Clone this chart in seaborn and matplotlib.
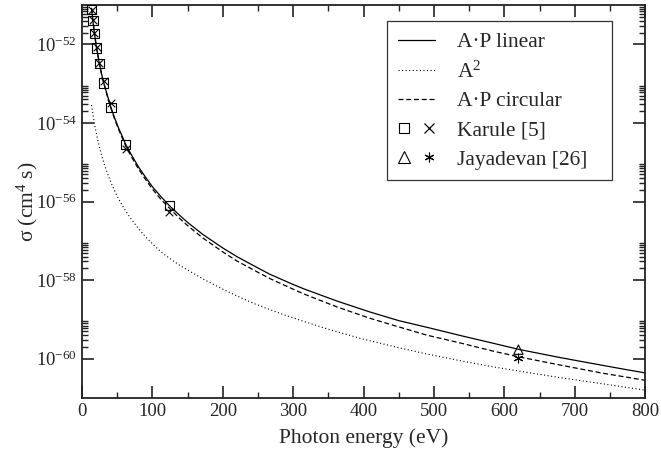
import matplotlib
matplotlib.use('Agg')
import matplotlib.pyplot as plt
from matplotlib.lines import Line2D
from matplotlib.legend_handler import HandlerTuple
from matplotlib.ticker import FixedLocator, FuncFormatter, NullFormatter
import numpy as np
import pandas as pd
import seaborn as sns

# A.P linear (solid line): photon energy (eV), log10 sigma
energy_lin = [13.6, 15.5, 17.7, 20.7, 24.8, 28, 31.0, 35, 41.3, 46, 52, 57, 62, 70, 80, 90,
              100, 112, 124, 137, 150, 172, 200, 220, 250, 267, 300, 315, 362, 409, 450,
              490, 540, 585, 620, 679, 740, 774, 800]
logsig_lin = [-51.08, -51.39, -51.72, -52.09, -52.49, -52.76, -52.98, -53.23, -53.61, -53.85,
              -54.13, -54.33, -54.54, -54.80, -55.11, -55.37, -55.62, -55.87, -56.10, -56.32,
              -56.53, -56.84, -57.18, -57.40, -57.69, -57.85, -58.11, -58.22, -58.53, -58.81,
              -59.03, -59.20, -59.42, -59.61, -59.76, -59.97, -60.17, -60.28, -60.36]

# A^2 (dotted line)
energy_a2 = [13.6, 15.5, 17, 18.9, 21, 23, 25.5, 28.4, 31.5, 35, 38.5, 42.6, 47, 52, 57, 61.5,
             67, 73.5, 80, 90, 105, 115, 125, 137, 150, 172, 200, 220, 245, 267, 290, 315, 350,
             395, 450, 490, 540, 585, 640, 679, 740, 800]
logsig_a2 = [-53.54, -53.77, -53.94, -54.12, -54.31, -54.47, -54.66, -54.85, -55.04, -55.22,
             -55.39, -55.57, -55.75, -55.93, -56.09, -56.22, -56.37, -56.53, -56.68, -56.89,
             -57.16, -57.32, -57.45, -57.60, -57.74, -57.97, -58.23, -58.40, -58.60, -58.75,
             -58.90, -59.05, -59.25, -59.48, -59.72, -59.88, -60.06, -60.21, -60.37, -60.48,
             -60.64, -60.80]

# A.P circular (dashed line)
energy_circ = [13.6, 15.5, 17.7, 20.7, 24.8, 28, 31.0, 35, 41.3, 46, 52, 57, 62, 70, 80, 90,
               100, 112, 125, 137, 150, 172, 200, 220, 250, 267, 300, 315, 362, 409, 450,
               490, 540, 585, 620, 679, 740, 774, 800]
logsig_circ = [-51.08, -51.38, -51.71, -52.08, -52.49, -52.77, -52.99, -53.25, -53.63, -53.88,
               -54.16, -54.37, -54.58, -54.85, -55.16, -55.43, -55.68, -55.94, -56.18, -56.40,
               -56.61, -56.93, -57.28, -57.51, -57.80, -57.96, -58.23, -58.35, -58.68, -58.97,
               -59.19, -59.40, -59.61, -59.81, -59.95, -60.16, -60.37, -60.47, -60.55]

# Karule [5]: squares (linear) and x (circular)
karule_energy = [13.78, 15.50, 17.71, 20.66, 24.80, 30.99, 41.33, 61.99, 123.98]
karule_lin = [-51.11, -51.39, -51.72, -52.09, -52.49, -52.98, -53.61, -54.54, -56.10]
karule_circ = [-51.11, -51.38, -51.71, -52.07, -52.46, -52.93, -53.49, -54.67, -56.27]

# Jayadevan [26]: triangle (linear) and asterisk (circular)
jay_energy = [620.0]
jay_lin = [-59.77]
jay_circ = [-59.97]

# axis ticks
x_major = np.arange(0, 801, 100)
y_major_exp = [-60, -58, -56, -54, -52]
y_minor_mult = [2, 3, 4, 5, 6, 7, 8, 9]

sns.set_theme(style='ticks')
plt.rcParams['font.family'] = ['Liberation Serif', 'DejaVu Serif']
plt.rcParams['mathtext.fontset'] = 'custom'
plt.rcParams['mathtext.rm'] = 'Liberation Serif'
plt.rcParams['mathtext.it'] = 'Liberation Serif:italic'

fig = plt.figure(figsize=(6.61, 4.51), dpi=100)
ax = fig.add_axes([0.124, 0.1175, 0.852, 0.871])

df_lin = pd.DataFrame({'E': energy_lin, 'sigma': 10.0 ** np.array(logsig_lin)})
df_a2 = pd.DataFrame({'E': energy_a2, 'sigma': 10.0 ** np.array(logsig_a2)})
df_circ = pd.DataFrame({'E': energy_circ, 'sigma': 10.0 ** np.array(logsig_circ)})

sns.lineplot(data=df_lin, x='E', y='sigma', ax=ax, color='black', lw=0.9, estimator=None)
sns.lineplot(data=df_a2, x='E', y='sigma', ax=ax, color='black', lw=0.8,
             linestyle=(0, (1, 2.2)), estimator=None)
sns.lineplot(data=df_circ, x='E', y='sigma', ax=ax, color='black', lw=0.9,
             linestyle=(0, (4, 2.2)), estimator=None)

sns.scatterplot(x=karule_energy, y=10.0 ** np.array(karule_lin), ax=ax, marker='s', s=45,
                facecolor='none', edgecolor='black', linewidth=0.8, zorder=3)
sns.scatterplot(x=karule_energy, y=10.0 ** np.array(karule_circ), ax=ax, marker='x', s=30,
                color='black', edgecolor=None, linewidth=0.8, zorder=3)
sns.scatterplot(x=jay_energy, y=10.0 ** np.array(jay_lin), ax=ax, marker='^', s=45,
                facecolor='none', edgecolor='black', linewidth=0.8, zorder=3)
sns.scatterplot(x=jay_energy, y=10.0 ** np.array(jay_circ), ax=ax, marker=(6, 2, 0), s=40,
                color='black', edgecolor=None, linewidth=0.8, zorder=3)

ax.set_yscale('log')
ax.set_xlim(0, 800)
ax.set_ylim(1e-61, 1e-51)
ax.xaxis.set_major_locator(FixedLocator(x_major))
ax.xaxis.set_minor_locator(FixedLocator(x_major[:-1] + 50))
ax.yaxis.set_major_locator(FixedLocator([10.0 ** e for e in y_major_exp]))
ax.yaxis.set_minor_locator(FixedLocator([m * 10.0 ** e for e in y_major_exp for m in y_minor_mult]))
ax.yaxis.set_major_formatter(FuncFormatter(lambda v, p: r'$10^{%d}$' % round(np.log10(v))))
ax.yaxis.set_minor_formatter(NullFormatter())

ax.tick_params(which='both', direction='in', top=True, right=True, color='#222222')
ax.tick_params(which='major', length=8.5, width=1.2, labelsize=13.5)
ax.tick_params(which='minor', length=4.5, width=1.0)
for s in ax.spines.values():
    s.set_linewidth(1.3)
    s.set_color('#222222')

ax.set_xlabel('Photon energy (eV)', fontsize=15.5, labelpad=6)
ax.set_ylabel(r'σ (cm$^4$ s)', fontsize=15.5, labelpad=-3)

h_lin = Line2D([], [], color='black', lw=0.9)
h_a2 = Line2D([], [], color='black', lw=0.8, linestyle=(0, (1, 2.2)))
h_circ = Line2D([], [], color='black', lw=0.9, linestyle=(0, (4, 2.2)))
h_sq = Line2D([], [], ls='none', marker='s', ms=7, mfc='none', mec='black', mew=0.8)
h_x = Line2D([], [], ls='none', marker='x', ms=6.5, color='black', mew=0.9)
h_tri = Line2D([], [], ls='none', marker='^', ms=8, mfc='none', mec='black', mew=0.8)
h_st = Line2D([], [], ls='none', marker=(6, 2, 0), ms=7, color='black', mew=0.8)

leg = ax.legend([h_lin, h_a2, h_circ, (h_sq, h_x), (h_tri, h_st)],
                ['A·P linear', 'A$^2$', 'A·P circular', 'Karule [5]', 'Jayadevan [26]'],
                handler_map={tuple: HandlerTuple(ndivide=None, pad=0.6)},
                loc='upper left', bbox_to_anchor=(0.5417, 0.559, 0.3996, 0.4), mode='expand',
                borderaxespad=0, fontsize=15.5, frameon=True, fancybox=False, framealpha=1,
                edgecolor='#333333', handlelength=1.75, handletextpad=1.0,
                labelspacing=0.42, borderpad=0.5)
leg.get_frame().set_linewidth(0.9)

plt.savefig('out.png', dpi=100)
